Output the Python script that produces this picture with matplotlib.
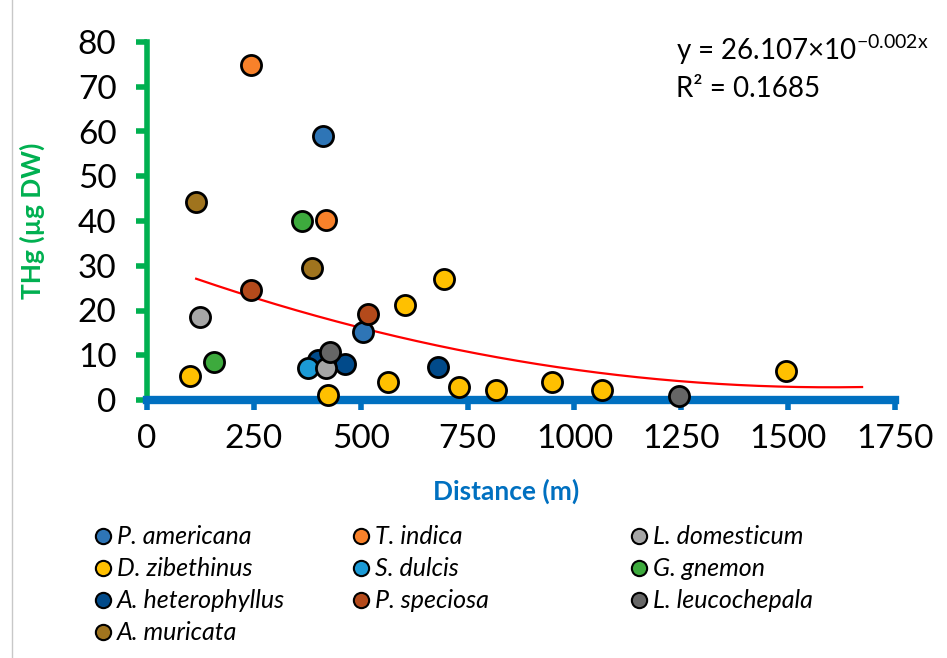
import numpy as np
import matplotlib
matplotlib.use("Agg")
import matplotlib.pyplot as plt
from matplotlib.lines import Line2D

plt.rcParams['font.family'] = ['Lato', 'DejaVu Sans']
plt.rcParams['mathtext.fontset'] = 'custom'
plt.rcParams['mathtext.rm'] = 'Lato'

# species, colours and measured points (distance in m, THg in ug DW)
species = ['P. americana', 'T. indica', 'L. domesticum', 'D. zibethinus', 'S. dulcis',
           'G. gnemon', 'A. heterophyllus', 'P. speciosa', 'L. leucochepala', 'A. muricata']
colors = ['#2E75B6', '#F8812A', '#A6A6A6', '#FFC000', '#1B9AD6',
          '#3DAA3D', '#014A8A', '#B44A1B', '#666666', '#A0741E']

dist = {
    'P. americana': [412, 505],
    'T. indica': [243, 419],
    'L. domesticum': [124, 419],
    'D. zibethinus': [101, 424, 564, 604, 695, 730, 816, 947, 1064, 1495],
    'S. dulcis': [377],
    'G. gnemon': [157, 363],
    'A. heterophyllus': [400, 463, 681],
    'P. speciosa': [243, 517],
    'L. leucochepala': [428, 1245],
    'A. muricata': [115, 386],
}
thg = {
    'P. americana': [59.0, 15.2],
    'T. indica': [74.8, 40.3],
    'L. domesticum': [18.5, 7.2],
    'D. zibethinus': [5.3, 1.1, 4.0, 21.2, 27.0, 2.8, 2.2, 4.0, 2.2, 6.4],
    'S. dulcis': [7.1],
    'G. gnemon': [8.6, 40.0],
    'A. heterophyllus': [9.0, 8.0, 7.3],
    'P. speciosa': [24.6, 19.2],
    'L. leucochepala': [10.8, 0.9],
    'A. muricata': [44.3, 29.6],
}
# draw order (later on top)
draw_order = ['T. indica', 'P. americana', 'A. muricata', 'G. gnemon', 'D. zibethinus',
              'P. speciosa', 'A. heterophyllus', 'S. dulcis', 'L. domesticum',
              'L. leucochepala']

# trend curve
trend_coef = [1.1e-5, -0.0352, 31.0]
trend_range = [115, 1673]

xticks = [0, 250, 500, 750, 1000, 1250, 1500, 1750]
yticks = [0, 10, 20, 30, 40, 50, 60, 70, 80]

green = '#00B050'
blue = '#0070C0'

fig = plt.figure(figsize=(9.47, 6.58), dpi=100)
ax = fig.add_axes([147 / 947, 1 - 400 / 658, (895 - 147) / 947, (400 - 42) / 658])

col = dict(zip(species, colors))
for i, sp in enumerate(draw_order):
    ax.scatter(dist[sp], thg[sp], s=210, color=col[sp], edgecolor='black',
               linewidth=2.0, zorder=5 + i, clip_on=False)

tx = np.linspace(trend_range[0], trend_range[1], 200)
ax.plot(tx, np.polyval(trend_coef, tx), color='#FF0000', lw=1.6, zorder=4)

ax.set_xlim(0, 1750)
ax.set_ylim(0, 80)
ax.set_xticks(xticks)
ax.set_yticks(yticks)
for s in ['top', 'right']:
    ax.spines[s].set_visible(False)
ax.spines['left'].set_color(green)
ax.spines['left'].set_linewidth(4)
ax.spines['bottom'].set_color(blue)
ax.spines['bottom'].set_linewidth(6)
ax.spines['bottom'].set_zorder(3)
ax.tick_params(axis='y', colors=green, width=4, length=8, labelsize=24,
               labelcolor='black', pad=14)
ax.tick_params(axis='x', colors=blue, width=4, length=7, labelsize=24,
               labelcolor='black', pad=10)

ax.set_xlabel('Distance (m)', fontsize=19, fontweight='bold', color=blue)
ax.xaxis.set_label_coords((506 - 147) / (895 - 147), -(479 - 400) / (400 - 42))
ax.set_ylabel('THg (µg DW)', fontsize=19, fontweight='bold', color=green)
ax.yaxis.set_label_coords(-(147 - 45) / (895 - 147), 0.5)

fig.text(676 / 947, 1 - 50 / 658, r'y = 26.107×10$^{\mathregular{-0.002x}}$',
         fontsize=20, va='center', ha='left')
fig.text(676 / 947, 1 - 89 / 658, 'R² = 0.1685', fontsize=20, va='center', ha='left')

# legend: three columns placed by hand, row-wise ordering
columns = [species[0::3], species[1::3], species[2::3]]
col_x = [78, 336, 614]
for names, x0 in zip(columns, col_x):
    handles = [Line2D([], [], marker='o', ls='', markersize=11, markerfacecolor=col[n],
                      markeredgecolor='black', markeredgewidth=1.5) for n in names]
    leg = fig.legend(handles, names, loc='upper left',
                     bbox_to_anchor=(x0 / 947, 1 - 513 / 658), frameon=False,
                     prop={'style': 'italic', 'size': 18}, handletextpad=0.05,
                     handlelength=1.0, labelspacing=0.36, borderpad=0)

fig.add_artist(Line2D([12 / 947, 12 / 947], [0, 1], color='#C8C8C8', lw=1))

fig.savefig('out.png', dpi=100)
